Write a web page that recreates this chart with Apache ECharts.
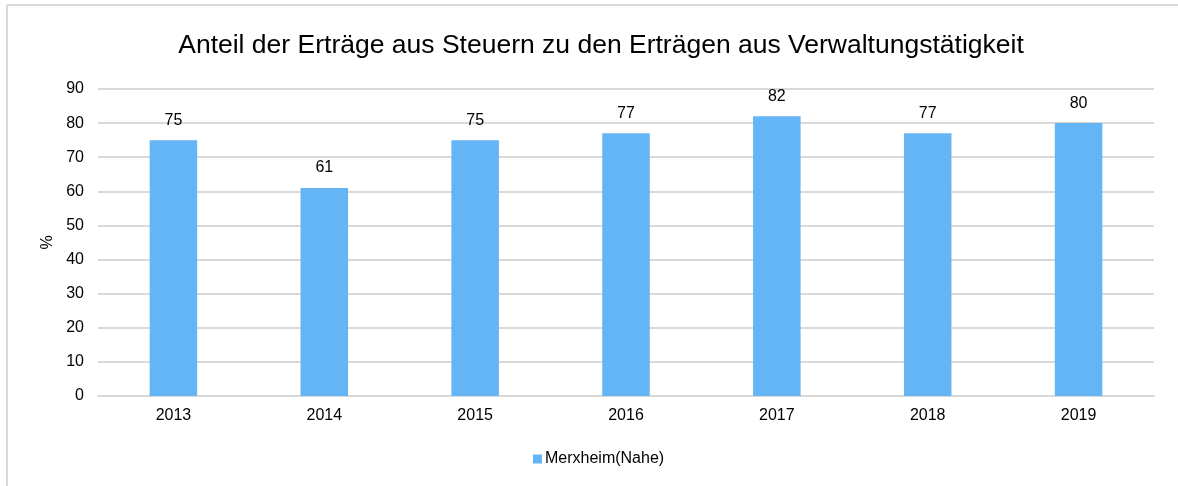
<!DOCTYPE html>
<html>
<head>
<meta charset="utf-8">
<script src="https://cdn.jsdelivr.net/npm/echarts@6/dist/echarts.min.js"></script>
<style>
html,body{margin:0;padding:0;background:#fff;}
#chart{width:1178px;height:486px;}
</style>
</head>
<body>
<div id="chart"></div>
<script>
const titleText = 'Anteil der Erträge aus Steuern zu den Erträgen aus Verwaltungstätigkeit';
const categories = ['2013', '2014', '2015', '2016', '2017', '2018', '2019'];
const seriesName = 'Merxheim(Nahe)';
const values = [75, 61, 75, 77, 82, 77, 80];
const yAxisName = '%';

const font = 'Liberation Sans, Arial, sans-serif';
const chart = echarts.init(document.getElementById('chart'));
chart.setOption({
  animation: false,
  backgroundColor: '#fff',
  graphic: [
    { type: 'line', shape: { x1: 7, y1: 5, x2: 1178, y2: 5 }, style: { stroke: '#d9d9d9', lineWidth: 2 } },
    { type: 'line', shape: { x1: 7, y1: 5, x2: 7, y2: 486 }, style: { stroke: '#d9d9d9', lineWidth: 2 } }
  ],
  title: {
    text: titleText,
    left: 596,
    textAlign: 'center',
    top: 27,
    textStyle: { fontFamily: font, fontSize: 26.5, fontWeight: 'normal', color: '#000' }
  },
  legend: {
    data: [seriesName],
    bottom: 14,
    left: 528,
    itemWidth: 9,
    itemHeight: 9,
    itemGap: 5,
    icon: 'rect',
    textStyle: { fontFamily: font, fontSize: 16, color: '#000', padding: [0, 0, 0, -2] }
  },
  grid: { left: 98, right: 24, top: 89, bottom: 90, containLabel: false },
  xAxis: {
    type: 'category',
    data: categories,
    axisTick: { show: false },
    axisLine: { lineStyle: { color: '#d9d9d9', width: 2 } },
    axisLabel: { fontFamily: font, fontSize: 16, color: '#000', margin: 12 }
  },
  yAxis: {
    type: 'value',
    min: 0, max: 90, interval: 10,
    name: yAxisName,
    nameLocation: 'middle',
    nameRotate: 90,
    nameGap: 37,
    nameTextStyle: { fontFamily: font, fontSize: 16, color: '#000' },
    axisLine: { show: false },
    axisTick: { show: false },
    axisLabel: { fontFamily: font, fontSize: 16, color: '#000', margin: 14 },
    splitLine: { lineStyle: { color: '#d9d9d9', width: 2 } }
  },
  series: [{
    name: seriesName,
    type: 'bar',
    data: values,
    barWidth: '31.5%',
    itemStyle: { color: '#64B5F6' },
    label: {
      show: true,
      position: 'top',
      distance: 12,
      fontFamily: font, fontSize: 16, color: '#000'
    }
  }]
});
</script>
</body>
</html>
